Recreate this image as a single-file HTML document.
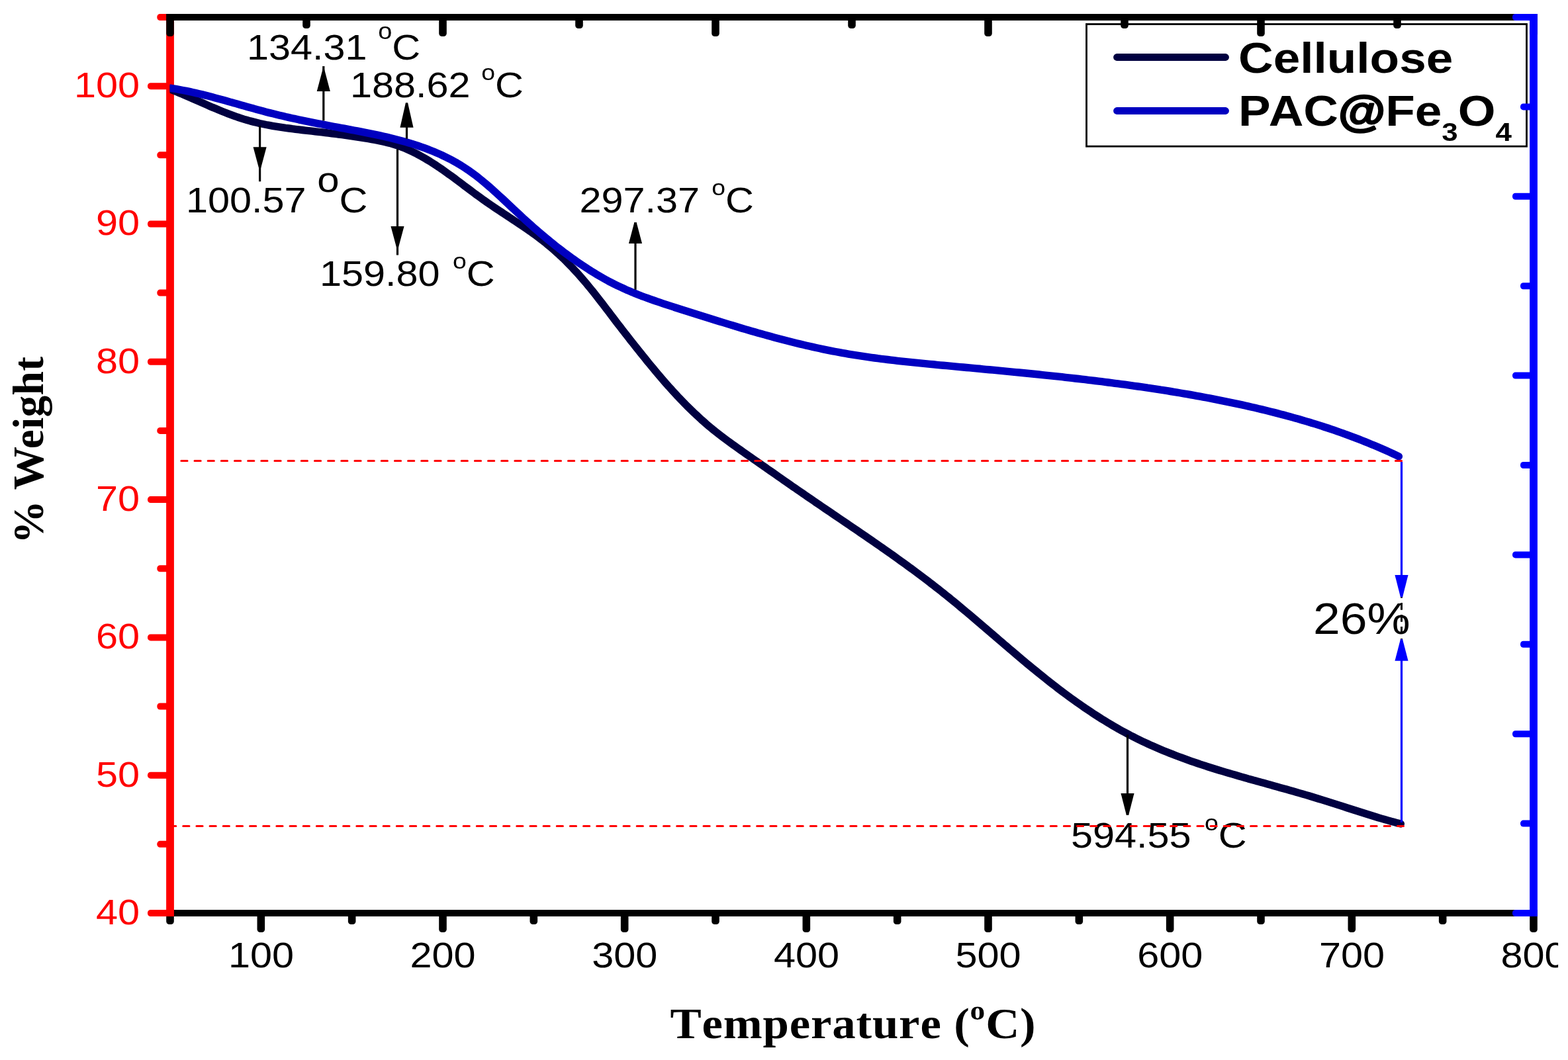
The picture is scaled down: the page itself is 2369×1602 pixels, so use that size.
<!DOCTYPE html>
<html lang="en">
<head>
<meta charset="utf-8">
<title>TGA curves: Cellulose and PAC@Fe3O4</title>
<style>
html,body{margin:0;padding:0;background:#ffffff;}
body{width:2369px;height:1602px;overflow:hidden;}
svg{display:block;}
text{white-space:pre;font-kerning:none;font-variant-ligatures:none;}
</style>
</head>
<body>
<svg width="2369" height="1602" viewBox="0 0 2369 1602" role="img" aria-label="TGA curves of Cellulose and PAC@Fe3O4">
<rect width="2369" height="1602" fill="#ffffff"/>
<rect x="1641.5" y="36.5" width="665.0" height="184.7" fill="none" stroke="#000" stroke-width="2.8"/>
<rect x="251.10" y="1375.00" width="2071.80" height="10.0" fill="#000000"/>
<rect x="251.20" y="1380.00" width="11.60" height="17.00" rx="4.5" ry="4.5" fill="#000000"/>
<rect x="388.53" y="1380.00" width="11.60" height="29.00" rx="4.5" ry="4.5" fill="#000000"/>
<rect x="525.87" y="1380.00" width="11.60" height="17.00" rx="4.5" ry="4.5" fill="#000000"/>
<rect x="663.20" y="1380.00" width="11.60" height="29.00" rx="4.5" ry="4.5" fill="#000000"/>
<rect x="800.53" y="1380.00" width="11.60" height="17.00" rx="4.5" ry="4.5" fill="#000000"/>
<rect x="937.87" y="1380.00" width="11.60" height="29.00" rx="4.5" ry="4.5" fill="#000000"/>
<rect x="1075.20" y="1380.00" width="11.60" height="17.00" rx="4.5" ry="4.5" fill="#000000"/>
<rect x="1212.53" y="1380.00" width="11.60" height="29.00" rx="4.5" ry="4.5" fill="#000000"/>
<rect x="1349.87" y="1380.00" width="11.60" height="17.00" rx="4.5" ry="4.5" fill="#000000"/>
<rect x="1487.20" y="1380.00" width="11.60" height="29.00" rx="4.5" ry="4.5" fill="#000000"/>
<rect x="1624.53" y="1380.00" width="11.60" height="17.00" rx="4.5" ry="4.5" fill="#000000"/>
<rect x="1761.87" y="1380.00" width="11.60" height="29.00" rx="4.5" ry="4.5" fill="#000000"/>
<rect x="1899.20" y="1380.00" width="11.60" height="17.00" rx="4.5" ry="4.5" fill="#000000"/>
<rect x="2036.53" y="1380.00" width="11.60" height="29.00" rx="4.5" ry="4.5" fill="#000000"/>
<rect x="2173.87" y="1380.00" width="11.60" height="17.00" rx="4.5" ry="4.5" fill="#000000"/>
<rect x="2311.20" y="1380.00" width="11.60" height="29.00" rx="4.5" ry="4.5" fill="#000000"/>
<rect x="251.10" y="21.00" width="11.8" height="1364.00" fill="#ff0000"/>
<rect x="223.00" y="1375.00" width="34.00" height="10.00" rx="4.5" ry="4.5" fill="#ff0000"/>
<rect x="237.30" y="1270.85" width="19.70" height="10.00" rx="4.5" ry="4.5" fill="#ff0000"/>
<rect x="223.00" y="1166.69" width="34.00" height="10.00" rx="4.5" ry="4.5" fill="#ff0000"/>
<rect x="237.30" y="1062.54" width="19.70" height="10.00" rx="4.5" ry="4.5" fill="#ff0000"/>
<rect x="223.00" y="958.38" width="34.00" height="10.00" rx="4.5" ry="4.5" fill="#ff0000"/>
<rect x="237.30" y="854.23" width="19.70" height="10.00" rx="4.5" ry="4.5" fill="#ff0000"/>
<rect x="223.00" y="750.08" width="34.00" height="10.00" rx="4.5" ry="4.5" fill="#ff0000"/>
<rect x="237.30" y="645.92" width="19.70" height="10.00" rx="4.5" ry="4.5" fill="#ff0000"/>
<rect x="223.00" y="541.77" width="34.00" height="10.00" rx="4.5" ry="4.5" fill="#ff0000"/>
<rect x="237.30" y="437.62" width="19.70" height="10.00" rx="4.5" ry="4.5" fill="#ff0000"/>
<rect x="223.00" y="333.46" width="34.00" height="10.00" rx="4.5" ry="4.5" fill="#ff0000"/>
<rect x="237.30" y="229.31" width="19.70" height="10.00" rx="4.5" ry="4.5" fill="#ff0000"/>
<rect x="223.00" y="125.15" width="34.00" height="10.00" rx="4.5" ry="4.5" fill="#ff0000"/>
<rect x="237.30" y="21.00" width="19.70" height="10.00" rx="4.5" ry="4.5" fill="#ff0000"/>
<rect x="251.10" y="21.00" width="2071.80" height="10.0" fill="#000000"/>
<rect x="251.20" y="26.00" width="11.60" height="29.00" rx="4.5" ry="4.5" fill="#000000"/>
<rect x="457.20" y="26.00" width="11.60" height="17.00" rx="4.5" ry="4.5" fill="#000000"/>
<rect x="663.20" y="26.00" width="11.60" height="29.00" rx="4.5" ry="4.5" fill="#000000"/>
<rect x="869.20" y="26.00" width="11.60" height="17.00" rx="4.5" ry="4.5" fill="#000000"/>
<rect x="1075.20" y="26.00" width="11.60" height="29.00" rx="4.5" ry="4.5" fill="#000000"/>
<rect x="1281.20" y="26.00" width="11.60" height="17.00" rx="4.5" ry="4.5" fill="#000000"/>
<rect x="1487.20" y="26.00" width="11.60" height="29.00" rx="4.5" ry="4.5" fill="#000000"/>
<rect x="1693.20" y="26.00" width="11.60" height="17.00" rx="4.5" ry="4.5" fill="#000000"/>
<rect x="1899.20" y="26.00" width="11.60" height="29.00" rx="4.5" ry="4.5" fill="#000000"/>
<rect x="2105.20" y="26.00" width="11.60" height="17.00" rx="4.5" ry="4.5" fill="#000000"/>
<rect x="2311.20" y="26.00" width="11.60" height="29.00" rx="4.5" ry="4.5" fill="#000000"/>
<rect x="2311.10" y="21.00" width="11.8" height="1364.00" fill="#0000ff"/>
<rect x="2285.00" y="21.00" width="32.00" height="10.00" rx="4.5" ry="4.5" fill="#0000ff"/>
<rect x="2297.00" y="156.40" width="20.00" height="10.00" rx="4.5" ry="4.5" fill="#0000ff"/>
<rect x="2285.00" y="291.80" width="32.00" height="10.00" rx="4.5" ry="4.5" fill="#0000ff"/>
<rect x="2297.00" y="427.20" width="20.00" height="10.00" rx="4.5" ry="4.5" fill="#0000ff"/>
<rect x="2285.00" y="562.60" width="32.00" height="10.00" rx="4.5" ry="4.5" fill="#0000ff"/>
<rect x="2297.00" y="698.00" width="20.00" height="10.00" rx="4.5" ry="4.5" fill="#0000ff"/>
<rect x="2285.00" y="833.40" width="32.00" height="10.00" rx="4.5" ry="4.5" fill="#0000ff"/>
<rect x="2297.00" y="968.80" width="20.00" height="10.00" rx="4.5" ry="4.5" fill="#0000ff"/>
<rect x="2285.00" y="1104.20" width="32.00" height="10.00" rx="4.5" ry="4.5" fill="#0000ff"/>
<rect x="2297.00" y="1239.60" width="20.00" height="10.00" rx="4.5" ry="4.5" fill="#0000ff"/>
<rect x="2285.00" y="1375.00" width="32.00" height="10.00" rx="4.5" ry="4.5" fill="#0000ff"/>
<text transform="translate(394.43,1461.50) scale(1.1,1)" font-family="&quot;Liberation Sans&quot;, sans-serif" font-size="54" font-weight="normal" fill="#000000" text-anchor="middle">100</text>
<text transform="translate(669.10,1461.50) scale(1.1,1)" font-family="&quot;Liberation Sans&quot;, sans-serif" font-size="54" font-weight="normal" fill="#000000" text-anchor="middle">200</text>
<text transform="translate(943.77,1461.50) scale(1.1,1)" font-family="&quot;Liberation Sans&quot;, sans-serif" font-size="54" font-weight="normal" fill="#000000" text-anchor="middle">300</text>
<text transform="translate(1218.43,1461.50) scale(1.1,1)" font-family="&quot;Liberation Sans&quot;, sans-serif" font-size="54" font-weight="normal" fill="#000000" text-anchor="middle">400</text>
<text transform="translate(1493.10,1461.50) scale(1.1,1)" font-family="&quot;Liberation Sans&quot;, sans-serif" font-size="54" font-weight="normal" fill="#000000" text-anchor="middle">500</text>
<text transform="translate(1767.77,1461.50) scale(1.1,1)" font-family="&quot;Liberation Sans&quot;, sans-serif" font-size="54" font-weight="normal" fill="#000000" text-anchor="middle">600</text>
<text transform="translate(2042.43,1461.50) scale(1.1,1)" font-family="&quot;Liberation Sans&quot;, sans-serif" font-size="54" font-weight="normal" fill="#000000" text-anchor="middle">700</text>
<text transform="translate(2317.10,1461.50) scale(1.1,1)" font-family="&quot;Liberation Sans&quot;, sans-serif" font-size="54" font-weight="normal" fill="#000000" text-anchor="middle">800</text>
<text transform="translate(211.00,1397.00) scale(1.1,1)" font-family="&quot;Liberation Sans&quot;, sans-serif" font-size="54" font-weight="normal" fill="#ff0000" text-anchor="end">40</text>
<text transform="translate(211.00,1188.69) scale(1.1,1)" font-family="&quot;Liberation Sans&quot;, sans-serif" font-size="54" font-weight="normal" fill="#ff0000" text-anchor="end">50</text>
<text transform="translate(211.00,980.38) scale(1.1,1)" font-family="&quot;Liberation Sans&quot;, sans-serif" font-size="54" font-weight="normal" fill="#ff0000" text-anchor="end">60</text>
<text transform="translate(211.00,772.08) scale(1.1,1)" font-family="&quot;Liberation Sans&quot;, sans-serif" font-size="54" font-weight="normal" fill="#ff0000" text-anchor="end">70</text>
<text transform="translate(211.00,563.77) scale(1.1,1)" font-family="&quot;Liberation Sans&quot;, sans-serif" font-size="54" font-weight="normal" fill="#ff0000" text-anchor="end">80</text>
<text transform="translate(211.00,355.46) scale(1.1,1)" font-family="&quot;Liberation Sans&quot;, sans-serif" font-size="54" font-weight="normal" fill="#ff0000" text-anchor="end">90</text>
<text transform="translate(211.00,147.15) scale(1.1,1)" font-family="&quot;Liberation Sans&quot;, sans-serif" font-size="54" font-weight="normal" fill="#ff0000" text-anchor="end">100</text>
<text transform="translate(1289.00,1569.00) scale(1.08,1)" font-family="&quot;Liberation Serif&quot;, serif" font-size="65.5" font-weight="bold" fill="#000000" text-anchor="middle" letter-spacing="0.8">Temperature (<tspan font-size="42" dy="-28">o</tspan><tspan dy="28">C)</tspan></text>
<text transform="translate(65.0,680.2) rotate(-90) scale(1.0,1.0)" font-family="&quot;Liberation Serif&quot;, serif" font-size="65.5" font-weight="bold" text-anchor="middle" letter-spacing="0.3" style="font-kerning:normal" fill="#000">% Weight</text>
<defs><clipPath id="plotclip"><rect x="256.50" y="0" width="2060.50" height="1602"/></clipPath></defs>
<path d="M257.1,134.9 L261.7,136.7 L266.3,138.5 L270.9,140.4 L275.5,142.3 L280.0,144.3 L284.6,146.3 L289.2,148.2 L293.8,150.3 L298.4,152.3 L303.0,154.3 L307.6,156.3 L312.3,158.4 L316.9,160.4 L321.5,162.4 L326.2,164.3 L330.8,166.3 L335.5,168.2 L340.1,170.0 L344.8,171.9 L349.5,173.6 L354.2,175.3 L358.9,177.0 L363.7,178.6 L368.4,180.1 L373.2,181.5 L378.0,182.9 L382.8,184.1 L387.6,185.3 L392.4,186.5 L397.3,187.5 L402.1,188.5 L407.0,189.4 L411.9,190.3 L416.8,191.1 L421.7,191.9 L426.7,192.7 L431.6,193.4 L436.6,194.0 L441.5,194.7 L446.5,195.3 L451.5,195.9 L456.4,196.5 L461.4,197.1 L466.4,197.6 L471.5,198.2 L476.5,198.8 L481.5,199.3 L486.5,199.9 L491.6,200.5 L496.6,201.1 L501.6,201.8 L506.7,202.4 L511.7,203.1 L516.7,203.7 L521.7,204.4 L526.8,205.1 L531.8,205.8 L536.8,206.6 L541.7,207.3 L546.7,208.1 L551.6,208.9 L556.6,209.7 L561.5,210.5 L566.4,211.4 L571.3,212.3 L576.1,213.3 L580.9,214.4 L585.7,215.6 L590.5,216.8 L595.2,218.2 L599.9,219.7 L604.6,221.4 L609.2,223.1 L613.8,225.0 L618.3,227.0 L622.8,229.1 L627.3,231.3 L631.7,233.6 L636.1,236.0 L640.4,238.4 L644.7,241.0 L649.0,243.5 L653.2,246.2 L657.4,248.9 L661.6,251.7 L665.8,254.5 L669.9,257.4 L674.0,260.3 L678.1,263.3 L682.2,266.2 L686.3,269.2 L690.3,272.2 L694.4,275.3 L698.4,278.3 L702.4,281.4 L706.5,284.4 L710.5,287.4 L714.6,290.5 L718.6,293.5 L722.7,296.4 L726.8,299.4 L730.8,302.3 L735.0,305.2 L739.1,308.1 L743.2,310.9 L747.3,313.7 L751.5,316.5 L755.7,319.2 L759.8,322.0 L764.0,324.7 L768.1,327.5 L772.3,330.2 L776.4,333.0 L780.6,335.7 L784.7,338.5 L788.8,341.2 L792.9,344.0 L797.0,346.9 L801.1,349.7 L805.1,352.6 L809.1,355.5 L813.1,358.5 L817.0,361.5 L821.0,364.5 L824.9,367.6 L828.7,370.8 L832.5,374.0 L836.3,377.3 L840.1,380.6 L843.8,383.9 L847.4,387.4 L851.1,390.8 L854.6,394.3 L858.2,397.9 L861.7,401.5 L865.2,405.1 L868.6,408.8 L872.1,412.5 L875.4,416.3 L878.8,420.1 L882.1,423.9 L885.3,427.7 L888.5,431.6 L891.7,435.5 L894.9,439.4 L898.0,443.3 L901.1,447.2 L904.2,451.2 L907.3,455.2 L910.4,459.1 L913.4,463.1 L916.4,467.1 L919.5,471.1 L922.5,475.1 L925.5,479.0 L928.5,483.0 L931.5,486.9 L934.6,490.9 L937.6,494.8 L940.6,498.8 L943.7,502.7 L946.7,506.6 L949.8,510.5 L952.8,514.4 L955.9,518.3 L959.0,522.2 L962.1,526.1 L965.2,530.0 L968.3,533.9 L971.4,537.8 L974.6,541.7 L977.7,545.6 L980.9,549.5 L984.1,553.3 L987.3,557.2 L990.5,561.1 L993.7,564.9 L997.0,568.7 L1000.3,572.6 L1003.6,576.4 L1006.9,580.2 L1010.2,584.0 L1013.6,587.7 L1017.0,591.5 L1020.4,595.2 L1023.8,598.9 L1027.3,602.5 L1030.8,606.2 L1034.3,609.8 L1037.8,613.4 L1041.4,616.9 L1045.0,620.4 L1048.6,623.9 L1052.3,627.3 L1055.9,630.7 L1059.6,634.1 L1063.4,637.4 L1067.1,640.7 L1070.9,644.0 L1074.8,647.1 L1078.6,650.3 L1082.5,653.4 L1086.5,656.5 L1090.4,659.5 L1094.4,662.5 L1098.4,665.5 L1102.4,668.4 L1106.4,671.3 L1110.4,674.2 L1114.5,677.1 L1118.6,680.0 L1122.6,682.9 L1126.7,685.7 L1130.8,688.6 L1134.9,691.4 L1139.0,694.3 L1143.1,697.2 L1147.2,700.0 L1151.3,702.9 L1155.4,705.7 L1159.4,708.6 L1163.6,711.5 L1167.7,714.3 L1171.8,717.2 L1175.9,720.1 L1180.0,722.9 L1184.1,725.8 L1188.2,728.7 L1192.3,731.5 L1196.4,734.4 L1200.6,737.2 L1204.7,740.1 L1208.8,742.9 L1213.0,745.8 L1217.1,748.6 L1221.2,751.5 L1225.4,754.3 L1229.5,757.1 L1233.6,760.0 L1237.8,762.8 L1241.9,765.6 L1246.1,768.5 L1250.2,771.3 L1254.4,774.1 L1258.6,776.9 L1262.7,779.7 L1266.9,782.6 L1271.0,785.4 L1275.2,788.2 L1279.3,791.0 L1283.5,793.9 L1287.6,796.7 L1291.8,799.5 L1295.9,802.3 L1300.1,805.2 L1304.2,808.0 L1308.3,810.8 L1312.5,813.7 L1316.6,816.5 L1320.7,819.4 L1324.8,822.2 L1329.0,825.1 L1333.1,828.0 L1337.2,830.9 L1341.3,833.7 L1345.4,836.6 L1349.5,839.5 L1353.5,842.4 L1357.6,845.3 L1361.7,848.3 L1365.7,851.2 L1369.8,854.1 L1373.8,857.1 L1377.9,860.0 L1381.9,863.0 L1385.9,866.0 L1389.9,869.0 L1393.9,872.0 L1397.9,875.0 L1401.9,878.0 L1405.8,881.1 L1409.8,884.1 L1413.7,887.2 L1417.7,890.3 L1421.6,893.4 L1425.5,896.5 L1429.4,899.6 L1433.3,902.7 L1437.1,905.9 L1441.0,909.0 L1444.9,912.2 L1448.7,915.4 L1452.5,918.6 L1456.4,921.8 L1460.2,925.0 L1464.0,928.2 L1467.8,931.4 L1471.6,934.6 L1475.4,937.9 L1479.2,941.1 L1483.0,944.4 L1486.8,947.6 L1490.6,950.9 L1494.4,954.1 L1498.2,957.4 L1502.0,960.6 L1505.8,963.9 L1509.6,967.2 L1513.4,970.4 L1517.2,973.7 L1521.0,976.9 L1524.8,980.2 L1528.6,983.4 L1532.4,986.6 L1536.2,989.9 L1540.0,993.1 L1543.8,996.3 L1547.7,999.6 L1551.5,1002.8 L1555.4,1006.0 L1559.2,1009.2 L1563.1,1012.3 L1567.0,1015.5 L1570.9,1018.7 L1574.8,1021.8 L1578.7,1024.9 L1582.6,1028.1 L1586.6,1031.2 L1590.5,1034.3 L1594.5,1037.3 L1598.5,1040.4 L1602.5,1043.5 L1606.5,1046.5 L1610.6,1049.5 L1614.6,1052.5 L1618.7,1055.5 L1622.8,1058.4 L1626.9,1061.3 L1631.0,1064.2 L1635.2,1067.1 L1639.3,1070.0 L1643.5,1072.8 L1647.7,1075.6 L1651.9,1078.4 L1656.1,1081.1 L1660.4,1083.9 L1664.6,1086.6 L1668.9,1089.2 L1673.2,1091.8 L1677.5,1094.4 L1681.8,1097.0 L1686.2,1099.5 L1690.5,1102.0 L1694.9,1104.4 L1699.3,1106.8 L1703.7,1109.1 L1708.1,1111.5 L1712.5,1113.7 L1717.0,1116.0 L1721.4,1118.2 L1725.9,1120.3 L1730.4,1122.4 L1734.9,1124.5 L1739.4,1126.6 L1744.0,1128.6 L1748.5,1130.5 L1753.1,1132.5 L1757.7,1134.4 L1762.3,1136.3 L1766.9,1138.1 L1771.5,1139.9 L1776.1,1141.7 L1780.8,1143.5 L1785.4,1145.2 L1790.1,1146.9 L1794.8,1148.6 L1799.5,1150.3 L1804.2,1151.9 L1808.9,1153.5 L1813.6,1155.1 L1818.4,1156.6 L1823.1,1158.2 L1827.9,1159.7 L1832.7,1161.2 L1837.5,1162.7 L1842.3,1164.2 L1847.1,1165.6 L1851.9,1167.1 L1856.7,1168.5 L1861.5,1169.9 L1866.4,1171.3 L1871.2,1172.7 L1876.0,1174.1 L1880.9,1175.5 L1885.7,1176.9 L1890.6,1178.2 L1895.4,1179.6 L1900.3,1180.9 L1905.1,1182.3 L1910.0,1183.6 L1914.9,1185.0 L1919.7,1186.3 L1924.6,1187.7 L1929.4,1189.0 L1934.3,1190.4 L1939.1,1191.7 L1944.0,1193.1 L1948.8,1194.5 L1953.6,1195.8 L1958.5,1197.2 L1963.3,1198.6 L1968.1,1200.0 L1972.9,1201.4 L1977.7,1202.8 L1982.5,1204.3 L1987.3,1205.7 L1992.1,1207.2 L1996.8,1208.6 L2001.6,1210.1 L2006.4,1211.6 L2011.1,1213.1 L2015.9,1214.6 L2020.6,1216.1 L2025.4,1217.6 L2030.1,1219.2 L2034.8,1220.7 L2039.6,1222.2 L2044.3,1223.7 L2049.1,1225.2 L2053.8,1226.7 L2058.6,1228.2 L2063.3,1229.7 L2068.1,1231.2 L2072.9,1232.7 L2077.7,1234.2 L2082.4,1235.7 L2087.2,1237.1 L2092.1,1238.5 L2096.9,1239.9 L2101.7,1241.3 L2106.6,1242.6 L2111.4,1243.9 L2116.3,1245.0" clip-path="url(#plotclip)" fill="none" stroke="#000040" stroke-width="11.4" stroke-linecap="round" stroke-linejoin="round"/>
<path d="M257.1,133.2 L262.0,133.9 L266.8,134.7 L271.7,135.6 L276.6,136.5 L281.4,137.4 L286.3,138.4 L291.1,139.5 L296.0,140.6 L300.9,141.7 L305.7,142.9 L310.6,144.1 L315.4,145.3 L320.2,146.6 L325.1,147.9 L329.9,149.2 L334.8,150.5 L339.6,151.8 L344.5,153.2 L349.3,154.6 L354.2,155.9 L359.0,157.3 L363.9,158.7 L368.7,160.0 L373.6,161.4 L378.4,162.8 L383.3,164.1 L388.1,165.5 L393.0,166.8 L397.8,168.1 L402.7,169.4 L407.5,170.6 L412.4,171.8 L417.2,173.0 L422.1,174.2 L427.0,175.3 L431.8,176.5 L436.7,177.6 L441.6,178.7 L446.5,179.7 L451.3,180.8 L456.2,181.8 L461.1,182.8 L466.0,183.8 L470.9,184.8 L475.8,185.8 L480.7,186.8 L485.6,187.7 L490.5,188.7 L495.4,189.6 L500.3,190.5 L505.3,191.5 L510.2,192.4 L515.1,193.3 L520.1,194.2 L525.0,195.1 L530.0,196.1 L534.9,197.0 L539.8,197.9 L544.8,198.9 L549.7,199.8 L554.6,200.8 L559.6,201.8 L564.5,202.8 L569.4,203.9 L574.3,204.9 L579.2,206.0 L584.1,207.1 L588.9,208.3 L593.8,209.5 L598.6,210.7 L603.4,212.0 L608.3,213.3 L613.0,214.6 L617.8,216.0 L622.6,217.4 L627.3,218.9 L632.0,220.5 L636.7,222.1 L641.3,223.7 L645.9,225.4 L650.5,227.2 L655.1,229.0 L659.6,230.9 L664.1,232.9 L668.6,235.0 L673.0,237.1 L677.5,239.3 L681.8,241.5 L686.2,243.9 L690.4,246.3 L694.7,248.9 L698.9,251.5 L703.1,254.2 L707.2,256.9 L711.3,259.8 L715.4,262.8 L719.4,265.8 L723.3,268.9 L727.3,272.1 L731.2,275.3 L735.1,278.6 L738.9,281.9 L742.8,285.3 L746.6,288.7 L750.3,292.1 L754.1,295.6 L757.9,299.0 L761.6,302.5 L765.3,306.0 L769.0,309.5 L772.7,313.0 L776.4,316.4 L780.1,319.9 L783.8,323.3 L787.4,326.7 L791.1,330.1 L794.8,333.5 L798.5,336.8 L802.2,340.1 L805.9,343.4 L809.6,346.6 L813.3,349.8 L817.1,353.1 L820.8,356.2 L824.6,359.4 L828.4,362.5 L832.2,365.6 L836.1,368.7 L839.9,371.8 L843.8,374.9 L847.8,377.9 L851.7,380.9 L855.7,383.9 L859.8,386.9 L863.8,389.8 L867.9,392.7 L872.0,395.6 L876.2,398.5 L880.4,401.3 L884.6,404.1 L888.8,406.8 L893.1,409.6 L897.4,412.2 L901.7,414.8 L906.1,417.4 L910.4,419.9 L914.8,422.4 L919.2,424.8 L923.7,427.1 L928.1,429.4 L932.6,431.6 L937.1,433.7 L941.7,435.8 L946.2,437.9 L950.8,439.8 L955.3,441.8 L959.9,443.6 L964.5,445.5 L969.1,447.3 L973.8,449.0 L978.4,450.7 L983.1,452.4 L987.8,454.0 L992.5,455.7 L997.1,457.2 L1001.9,458.8 L1006.6,460.4 L1011.3,461.9 L1016.0,463.4 L1020.8,465.0 L1025.5,466.5 L1030.2,468.0 L1035.0,469.5 L1039.8,471.0 L1044.5,472.5 L1049.3,474.0 L1054.0,475.5 L1058.8,477.0 L1063.6,478.5 L1068.4,480.0 L1073.2,481.5 L1077.9,483.0 L1082.7,484.5 L1087.5,486.0 L1092.3,487.4 L1097.1,488.9 L1101.9,490.4 L1106.7,491.8 L1111.6,493.3 L1116.4,494.7 L1121.2,496.2 L1126.0,497.6 L1130.8,499.0 L1135.7,500.4 L1140.5,501.8 L1145.3,503.2 L1150.2,504.5 L1155.0,505.9 L1159.9,507.3 L1164.7,508.6 L1169.6,509.9 L1174.4,511.2 L1179.3,512.5 L1184.2,513.8 L1189.0,515.0 L1193.9,516.3 L1198.8,517.5 L1203.6,518.7 L1208.5,519.9 L1213.4,521.0 L1218.3,522.2 L1223.2,523.3 L1228.0,524.4 L1232.9,525.5 L1237.8,526.5 L1242.7,527.6 L1247.6,528.6 L1252.5,529.6 L1257.4,530.6 L1262.3,531.5 L1267.2,532.4 L1272.2,533.3 L1277.1,534.2 L1282.0,535.1 L1286.9,535.9 L1291.8,536.7 L1296.7,537.4 L1301.7,538.2 L1306.6,538.9 L1311.5,539.6 L1316.4,540.3 L1321.4,541.0 L1326.3,541.7 L1331.3,542.3 L1336.2,542.9 L1341.1,543.5 L1346.1,544.1 L1351.0,544.7 L1356.0,545.3 L1360.9,545.8 L1365.9,546.4 L1370.8,546.9 L1375.8,547.4 L1380.7,547.9 L1385.7,548.4 L1390.6,548.9 L1395.6,549.4 L1400.5,549.9 L1405.5,550.4 L1410.5,550.8 L1415.4,551.3 L1420.4,551.8 L1425.4,552.2 L1430.3,552.7 L1435.3,553.2 L1440.3,553.6 L1445.2,554.1 L1450.2,554.6 L1455.2,555.0 L1460.2,555.5 L1465.1,555.9 L1470.1,556.4 L1475.1,556.9 L1480.1,557.3 L1485.0,557.8 L1490.0,558.3 L1495.0,558.7 L1500.0,559.2 L1505.0,559.7 L1509.9,560.2 L1514.9,560.6 L1519.9,561.1 L1524.9,561.6 L1529.9,562.1 L1534.9,562.6 L1539.8,563.0 L1544.8,563.5 L1549.8,564.0 L1554.8,564.5 L1559.8,565.0 L1564.8,565.5 L1569.8,566.0 L1574.8,566.6 L1579.7,567.1 L1584.7,567.6 L1589.7,568.1 L1594.7,568.7 L1599.7,569.2 L1604.7,569.7 L1609.7,570.3 L1614.6,570.8 L1619.6,571.4 L1624.6,572.0 L1629.6,572.5 L1634.6,573.1 L1639.6,573.7 L1644.5,574.3 L1649.5,574.9 L1654.5,575.5 L1659.5,576.1 L1664.5,576.7 L1669.4,577.3 L1674.4,578.0 L1679.4,578.6 L1684.4,579.3 L1689.3,579.9 L1694.3,580.6 L1699.3,581.2 L1704.2,581.9 L1709.2,582.6 L1714.2,583.3 L1719.1,584.0 L1724.1,584.7 L1729.1,585.4 L1734.0,586.2 L1739.0,586.9 L1743.9,587.6 L1748.9,588.4 L1753.8,589.2 L1758.8,589.9 L1763.7,590.7 L1768.6,591.5 L1773.6,592.3 L1778.5,593.1 L1783.5,594.0 L1788.4,594.8 L1793.3,595.7 L1798.2,596.5 L1803.2,597.4 L1808.1,598.3 L1813.0,599.2 L1817.9,600.1 L1822.8,601.0 L1827.7,601.9 L1832.6,602.9 L1837.5,603.8 L1842.4,604.8 L1847.3,605.8 L1852.2,606.8 L1857.1,607.8 L1862.0,608.8 L1866.8,609.8 L1871.7,610.9 L1876.6,611.9 L1881.4,613.0 L1886.3,614.1 L1891.1,615.2 L1896.0,616.3 L1900.8,617.5 L1905.7,618.6 L1910.5,619.8 L1915.4,621.0 L1920.2,622.2 L1925.0,623.4 L1929.8,624.6 L1934.7,625.9 L1939.5,627.1 L1944.3,628.4 L1949.1,629.7 L1953.9,631.1 L1958.7,632.4 L1963.4,633.8 L1968.2,635.2 L1973.0,636.6 L1977.8,638.0 L1982.5,639.5 L1987.3,640.9 L1992.0,642.4 L1996.8,643.9 L2001.5,645.5 L2006.3,647.0 L2011.0,648.6 L2015.7,650.2 L2020.4,651.8 L2025.1,653.5 L2029.8,655.2 L2034.5,656.9 L2039.2,658.6 L2043.9,660.3 L2048.6,662.1 L2053.3,663.9 L2057.9,665.7 L2062.6,667.6 L2067.3,669.5 L2071.9,671.4 L2076.5,673.3 L2081.2,675.3 L2085.8,677.3 L2090.4,679.3 L2095.0,681.3 L2099.6,683.4 L2104.2,685.5 L2108.8,687.6 L2113.4,689.8" clip-path="url(#plotclip)" fill="none" stroke="#0000c0" stroke-width="11.4" stroke-linecap="round" stroke-linejoin="round"/>
<line x1="2117.5" y1="892.9" x2="2117.5" y2="967.5" stroke="#000" stroke-width="3" stroke-dasharray="10.9 7.1"/>
<line x1="488.8" y1="182.4" x2="488.8" y2="100.0" stroke="#000000" stroke-width="3.2"/>
<polygon points="478.75,137.9 498.85,137.9 488.8,100.00" fill="#000000"/>
<line x1="614.5" y1="209.7" x2="614.5" y2="155.5" stroke="#000000" stroke-width="3.2"/>
<polygon points="604.45,192.7 624.55,192.7 616.10,155.5 612.90,155.5" fill="#000000"/>
<line x1="392.6" y1="190.1" x2="392.6" y2="274.3" stroke="#000000" stroke-width="3.2"/>
<polygon points="382.55,222.2 402.65,222.2 392.6,259.70" fill="#000000"/>
<line x1="600.5" y1="225.2" x2="600.5" y2="385.5" stroke="#000000" stroke-width="3.2"/>
<polygon points="590.45,342.0 610.55,342.0 600.5,379.50" fill="#000000"/>
<line x1="960.0" y1="437.8" x2="960.0" y2="336.0" stroke="#000000" stroke-width="3.2"/>
<polygon points="949.95,368.1 970.05,368.1 961.60,336.0 958.40,336.0" fill="#000000"/>
<line x1="1703.5" y1="1110.4" x2="1703.5" y2="1232.0" stroke="#000000" stroke-width="3.2"/>
<polygon points="1693.45,1199.1 1713.55,1199.1 1705.10,1232.1 1701.90,1232.1" fill="#000000"/>
<line x1="2117.5" y1="698.0" x2="2117.5" y2="902.2" stroke="#0000ff" stroke-width="3.2"/>
<polygon points="2107.45,869.1 2127.55,869.1 2119.10,902.2 2115.90,902.2" fill="#0000ff"/>
<line x1="2117.5" y1="1243.0" x2="2117.5" y2="966.2" stroke="#0000ff" stroke-width="3.2"/>
<polygon points="2107.45,998.7 2127.55,998.7 2119.10,966.2 2115.90,966.2" fill="#0000ff"/>
<text transform="translate(373.00,90.00) scale(1.1,1)" font-family="&quot;Liberation Sans&quot;, sans-serif" font-size="54" font-weight="normal" fill="#000000" text-anchor="start">134.31 <tspan dx="0" dy="-31" font-size="34.5">o</tspan><tspan dx="0" dy="31">C</tspan></text>
<text transform="translate(529.00,146.80) scale(1.1,1)" font-family="&quot;Liberation Sans&quot;, sans-serif" font-size="54" font-weight="normal" fill="#000000" text-anchor="start">188.62 <tspan dx="0" dy="-25.8" font-size="34">o</tspan><tspan dx="0" dy="25.8">C</tspan></text>
<text transform="translate(281.00,321.00) scale(1.1,1)" font-family="&quot;Liberation Sans&quot;, sans-serif" font-size="54" font-weight="normal" fill="#000000" text-anchor="start">100.57 <tspan dx="0" dy="-30.7" font-size="54.5">o</tspan><tspan dx="0" dy="30.7">C</tspan></text>
<text transform="translate(483.00,432.00) scale(1.1,1)" font-family="&quot;Liberation Sans&quot;, sans-serif" font-size="54" font-weight="normal" fill="#000000" text-anchor="start">159.80 <tspan dx="2.5" dy="-25.9" font-size="34">o</tspan><tspan dx="0" dy="25.9">C</tspan></text>
<text transform="translate(875.50,320.90) scale(1.1,1)" font-family="&quot;Liberation Sans&quot;, sans-serif" font-size="54" font-weight="normal" fill="#000000" text-anchor="start">297.37 <tspan dx="1.5" dy="-25.8" font-size="34">o</tspan><tspan dx="0" dy="25.8">C</tspan></text>
<text transform="translate(1618.00,1280.90) scale(1.1,1)" font-family="&quot;Liberation Sans&quot;, sans-serif" font-size="54" font-weight="normal" fill="#000000" text-anchor="start">594.55 <tspan dx="3.5" dy="-26" font-size="34">o</tspan><tspan dx="0" dy="26">C</tspan></text>
<text transform="translate(1984.00,957.90) scale(1.11,1)" font-family="&quot;Liberation Sans&quot;, sans-serif" font-size="66" font-weight="normal" fill="#000000" text-anchor="start">26%</text>
<line x1="2117.6" y1="696.4" x2="262.9" y2="696.4" stroke="#ff0000" stroke-width="3.0" stroke-linecap="round" stroke-dasharray="9.20 10.96" stroke-dashoffset="0"/>
<line x1="2120.5" y1="1248.6" x2="262.9" y2="1248.6" stroke="#ff0000" stroke-width="3.0" stroke-linecap="round" stroke-dasharray="9.20 10.96" stroke-dashoffset="0"/>
<line x1="1687.5" y1="86.5" x2="1851.5" y2="86.5" stroke="#000040" stroke-width="10.8" stroke-linecap="round"/>
<line x1="1687.5" y1="167.5" x2="1851.5" y2="167.5" stroke="#0000c0" stroke-width="10.8" stroke-linecap="round"/>
<text transform="translate(1871.00,109.50) scale(1.14,1)" font-family="&quot;Liberation Sans&quot;, sans-serif" font-size="64" font-weight="bold" fill="#000000" text-anchor="start" letter-spacing="0">Cellulose</text>
<text transform="translate(1871.00,190.40) scale(1.14,1)" font-family="&quot;Liberation Sans&quot;, sans-serif" font-size="64" font-weight="bold" fill="#000000" text-anchor="start" letter-spacing="0">P<tspan dx="-2.6">A</tspan>C<tspan stroke="#000" stroke-width="2.4" stroke-linejoin="round">@</tspan>Fe<tspan font-size="38.5" dy="22.5">3</tspan><tspan dy="-22.5">O</tspan><tspan font-size="38.5" dy="22.5">4</tspan></text>
<rect x="2354.1" y="0" width="14.9" height="1602" fill="#ffffff"/>
</svg>
</body>
</html>
